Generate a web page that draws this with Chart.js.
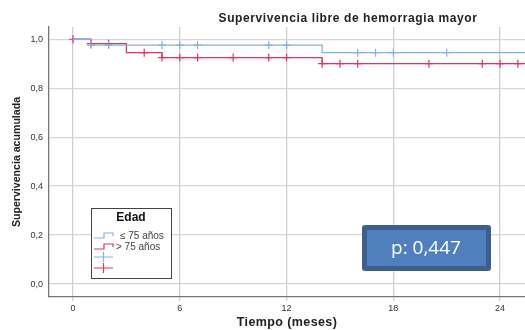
<!DOCTYPE html>
<html>
<head>
<meta charset="utf-8">
<script src="https://cdn.jsdelivr.net/npm/chart.js@4.4.0/dist/chart.umd.min.js"></script>
<style>
  html, body { margin: 0; padding: 0; background: #fff; }
  #wrap { width: 525px; height: 330px; position: relative; }
</style>
</head>
<body>
<div id="wrap"><canvas id="kmChart" width="525" height="330"></canvas></div>
<script>
// Datos (Kaplan-Meier)
const xTicks = [0, 6, 12, 18, 24];
const yTicks = [0, 0.2, 0.4, 0.6, 0.8, 1.0];

// ≤ 75 años
const joveTimes = [0, 1, 14, 25.4];
const joveSurv = [1.0, 0.976, 0.945, 0.945];
const joveCensor = [1, 2, 5, 6, 7, 11, 12, 16, 17, 18, 21];

// > 75 años
const mayorTimes = [0, 1, 3, 5, 14, 25.4];
const mayorSurv = [1.0, 0.982, 0.945, 0.925, 0.9, 0.9];
const mayorCensor = [0, 1, 2, 4, 5, 6, 7, 9, 11, 12, 14, 15, 16, 20, 23, 24, 25];

const legendLabels = ["≤ 75 años", "> 75 años"];
const pValue = "p: 0,447";

const BLUE = "#86b0e6";
const RED = "#e3335f";

// valor de la curva escalonada en un tiempo dado
function survAt(times, surv, t) {
  let v = surv[0];
  for (let i = 0; i < times.length; i++) {
    if (times[i] <= t) v = surv[i];
  }
  return v;
}

function toPoints(times, surv) {
  return times.map((t, i) => ({ x: t, y: surv[i] }));
}

function censorPoints(times, surv, cens) {
  return cens.map((t) => ({ x: t, y: survAt(times, surv, t) }));
}

const fmt = (v) => v.toFixed(1).replace(".", ",");

// Título, ejes, leyenda y caja del p-valor
const extras = {
  id: "extras",
  afterDraw(chart) {
    const ctx = chart.ctx;
    ctx.save();
    ctx.fillStyle = "#222";
    ctx.textAlign = "center";
    ctx.textBaseline = "middle";
    ctx.letterSpacing = "0.6px";
    ctx.font = "bold 12px 'Liberation Sans', Arial, sans-serif";
    ctx.fillText("Supervivencia libre de hemorragia mayor", 348, 19);

    ctx.letterSpacing = "0.4px";
    ctx.font = "bold 12.5px 'Liberation Sans', Arial, sans-serif";
    ctx.fillText("Tiempo (meses)", 287, 323);

    ctx.letterSpacing = "0px";
    ctx.save();
    ctx.translate(17, 162);
    ctx.rotate(-Math.PI / 2);
    ctx.font = "bold 10.6px 'Liberation Sans', Arial, sans-serif";
    ctx.fillText("Supervivencia acumulada", 0, 0);
    ctx.restore();

    // leyenda
    ctx.fillStyle = "#fff";
    ctx.fillRect(91, 208, 80, 70);
    ctx.strokeStyle = "#444";
    ctx.lineWidth = 1;
    ctx.strokeRect(91.5, 208.5, 80, 70);
    ctx.fillStyle = "#111";
    ctx.font = "bold 12px 'Liberation Sans', Arial, sans-serif";
    ctx.fillText("Edad", 131, 218);

    const colors = [BLUE, RED];
    const rows = [236, 247];
    ctx.lineWidth = 1.2;
    rows.forEach((y, i) => {
      ctx.strokeStyle = colors[i];
      ctx.beginPath();
      ctx.moveTo(94, y + 2);
      ctx.lineTo(104, y + 2);
      ctx.lineTo(104, y - 3);
      ctx.lineTo(113, y - 3);
      ctx.lineTo(113, y);
      ctx.stroke();
      ctx.fillStyle = "#444";
      ctx.textAlign = "left";
      ctx.font = "10px 'Liberation Sans', Arial, sans-serif";
      ctx.fillText(legendLabels[i], i === 0 ? 120 : 116, y);
    });
    [257, 268].forEach((y, i) => {
      ctx.strokeStyle = colors[i];
      ctx.beginPath();
      ctx.moveTo(94, y);
      ctx.lineTo(113, y);
      ctx.moveTo(103.5, y - 5);
      ctx.lineTo(103.5, y + 5);
      ctx.stroke();
    });

    // caja del p-valor
    ctx.fillStyle = "#3d5f8e";
    ctx.beginPath();
    ctx.roundRect(362, 225, 129, 46, 3);
    ctx.fill();
    ctx.fillStyle = "#4f7fbd";
    ctx.fillRect(367, 230, 119, 36);
    ctx.fillStyle = "#fff";
    ctx.textAlign = "center";
    ctx.font = "19px 'Open Sans', 'Liberation Sans', sans-serif";
    ctx.fillText(pValue, 426, 249);
    ctx.restore();
  }
};

const chart = new Chart(document.getElementById("kmChart"), {
  type: "line",
  data: {
    datasets: [
      {
        data: toPoints(joveTimes, joveSurv),
        borderColor: BLUE,
        borderWidth: 1.3,
        stepped: true,
        pointRadius: 0,
        fill: false
      },
      {
        data: toPoints(mayorTimes, mayorSurv),
        borderColor: RED,
        borderWidth: 1.3,
        stepped: true,
        pointRadius: 0,
        fill: false
      },
      {
        data: censorPoints(joveTimes, joveSurv, joveCensor),
        showLine: false,
        pointStyle: "cross",
        pointRadius: 4,
        borderColor: BLUE,
        pointBorderWidth: 1.2
      },
      {
        data: censorPoints(mayorTimes, mayorSurv, mayorCensor),
        showLine: false,
        pointStyle: "cross",
        pointRadius: 4,
        borderColor: RED,
        pointBorderWidth: 1.2
      }
    ]
  },
  options: {
    responsive: false,
    animation: false,
    layout: { autoPadding: false, padding: { top: 27, right: 0, left: 0, bottom: 0 } },
    plugins: {
      legend: { display: false },
      tooltip: { enabled: false }
    },
    scales: {
      x: {
        type: "linear",
        min: -1.35,
        max: 25.4,
        afterBuildTicks: (s) => { s.ticks = xTicks.map((v) => ({ value: v })); },
        afterFit: (s) => { s.height = 33; },
        grid: { color: "#cfcfcf", lineWidth: 1.3, drawTicks: true, tickLength: 4 },
        border: { color: "#777", width: 1.3 },
        ticks: {
          color: "#333",
          font: { size: 9, family: "'Liberation Sans', Arial, sans-serif" },
          padding: 2,
          maxRotation: 0
        }
      },
      y: {
        min: -0.053,
        max: 1.05,
        afterBuildTicks: (s) => { s.ticks = yTicks.map((v) => ({ value: v })); },
        afterFit: (s) => { s.width = 49; },
        grid: { color: "#d6d6d6", lineWidth: 1.3, drawTicks: false },
        border: { color: "#777", width: 1.3 },
        ticks: {
          color: "#333",
          font: { size: 9, family: "'Liberation Sans', Arial, sans-serif" },
          padding: 6,
          callback: (v) => fmt(v)
        }
      }
    }
  },
  plugins: [extras]
});
</script>
</body>
</html>
